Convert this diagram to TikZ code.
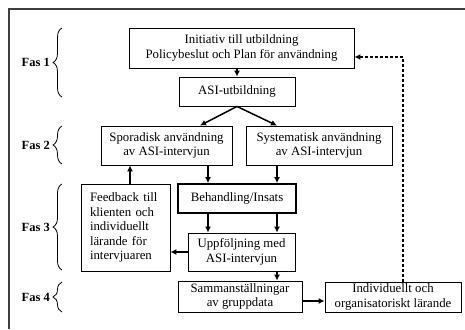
\documentclass[tikz,border=0pt]{standalone}
\usepackage{fontspec}
\setmainfont{Liberation Serif}
\usetikzlibrary{arrows.meta,decorations.pathreplacing,calc}
\begin{document}
\begin{tikzpicture}[x=1pt,y=-1pt,
  box/.style={draw, line width=0.9pt, align=center, inner sep=0pt, font=\fontsize{12.8}{14.5}\selectfont},
  arr/.style={line width=1.5pt, -{Latex[length=6pt,width=6pt]}},
  darr/.style={line width=1.3pt, dash pattern=on 3pt off 2pt, -{Latex[length=6pt,width=6pt]}},
  fasbrace/.style={line width=0.8pt, decorate, decoration={brace, amplitude=9pt}},
  faslabel/.style={anchor=east, inner sep=0pt, font=\fontsize{12.5}{14}\selectfont\bfseries}]
\useasboundingbox (0,0) rectangle (465,329);
\draw[line width=1.2pt, black!75] (465,9) -- (9,9) -- (9,329);

% boxes
\node[box, minimum width=225pt, minimum height=40pt] (b1) at (241.5,48) {Initiativ till utbildning\\Policybeslut och Plan för användning};
\node[box, minimum width=116pt, minimum height=29pt] (asi) at (237,91.5) {ASI-utbildning};
\node[box, minimum width=131pt, minimum height=39pt] (spo) at (166.5,145.5) {Sporadisk användning\\av ASI-intervjun};
\node[box, minimum width=146pt, minimum height=39pt] (sys) at (319,145.5) {Systematisk användning\\av ASI-intervjun};
\node[box, align=left, inner xsep=9pt, text width=71pt, minimum height=87pt] (fb) at (125.5,227.5) {Feedback till\\klienten och\\individuellt\\lärande för\\intervjuaren};
\node[box, line width=1.8pt, minimum width=118pt, minimum height=29pt] (beh) at (237,198.5) {Behandling/Insats};
\node[box, minimum width=107pt, minimum height=38pt] (upp) at (241.5,252) {Uppföljning med\\ASI-intervjun};
\node[box, minimum width=124pt, minimum height=31pt] (sam) at (240,296.5) {Sammanställningar\\av gruppdata};
\node[box, minimum width=136pt, minimum height=30pt] (ind) at (393,297) {Individuellt och\\organisatoriskt lärande};

% column coordinates
\coordinate (cA) at (130,0);
\coordinate (cB) at (208,0);
\coordinate (cC) at (277,0);
\coordinate (cS) at (200,0);
\coordinate (rF) at (0,252);
\coordinate (rS) at (0,301);
\coordinate (dc) at (403,57);

% arrows
\draw[arr] (asi.north |- b1.south) -- (asi.north);
\draw[arr] (asi.south) -- (spo.north -| cS);
\draw[arr] (asi.south) -- (sys.north -| cC);
\draw[arr] (fb.north -| cA) -- (spo.south -| cA);
\draw[arr] (spo.south -| cB) -- (beh.north -| cB);
\draw[arr] (sys.south -| cC) -- (beh.north -| cC);
\draw[arr] (beh.south -| cB) -- (upp.north -| cB);
\draw[arr] (beh.south -| cC) -- (upp.north -| cC);
\draw[arr] (upp.south -| cC) -- (sam.north -| cC);
\draw[arr] (upp.west |- rF) -- (fb.east |- rF);
\draw[arr] (sam.east |- rS) -- (ind.west |- rS);
\draw[darr] (ind.north -| dc) -- (dc) -- (b1.east |- dc);

% braces and labels
\draw[fasbrace] (62,97) -- (62,28);
\node[faslabel] (f1) at (50,62.5) {Fas 1};
\draw[fasbrace] (62,164) -- (62,126);
\node[faslabel] (f2) at (50,145) {Fas 2};
\draw[fasbrace] (62,270) -- (62,184);
\node[faslabel] (f3) at (50,227) {Fas 3};
\draw[fasbrace] (62,312) -- (62,282);
\node[faslabel] (f4) at (50,297) {Fas 4};
\end{tikzpicture}
\end{document}
